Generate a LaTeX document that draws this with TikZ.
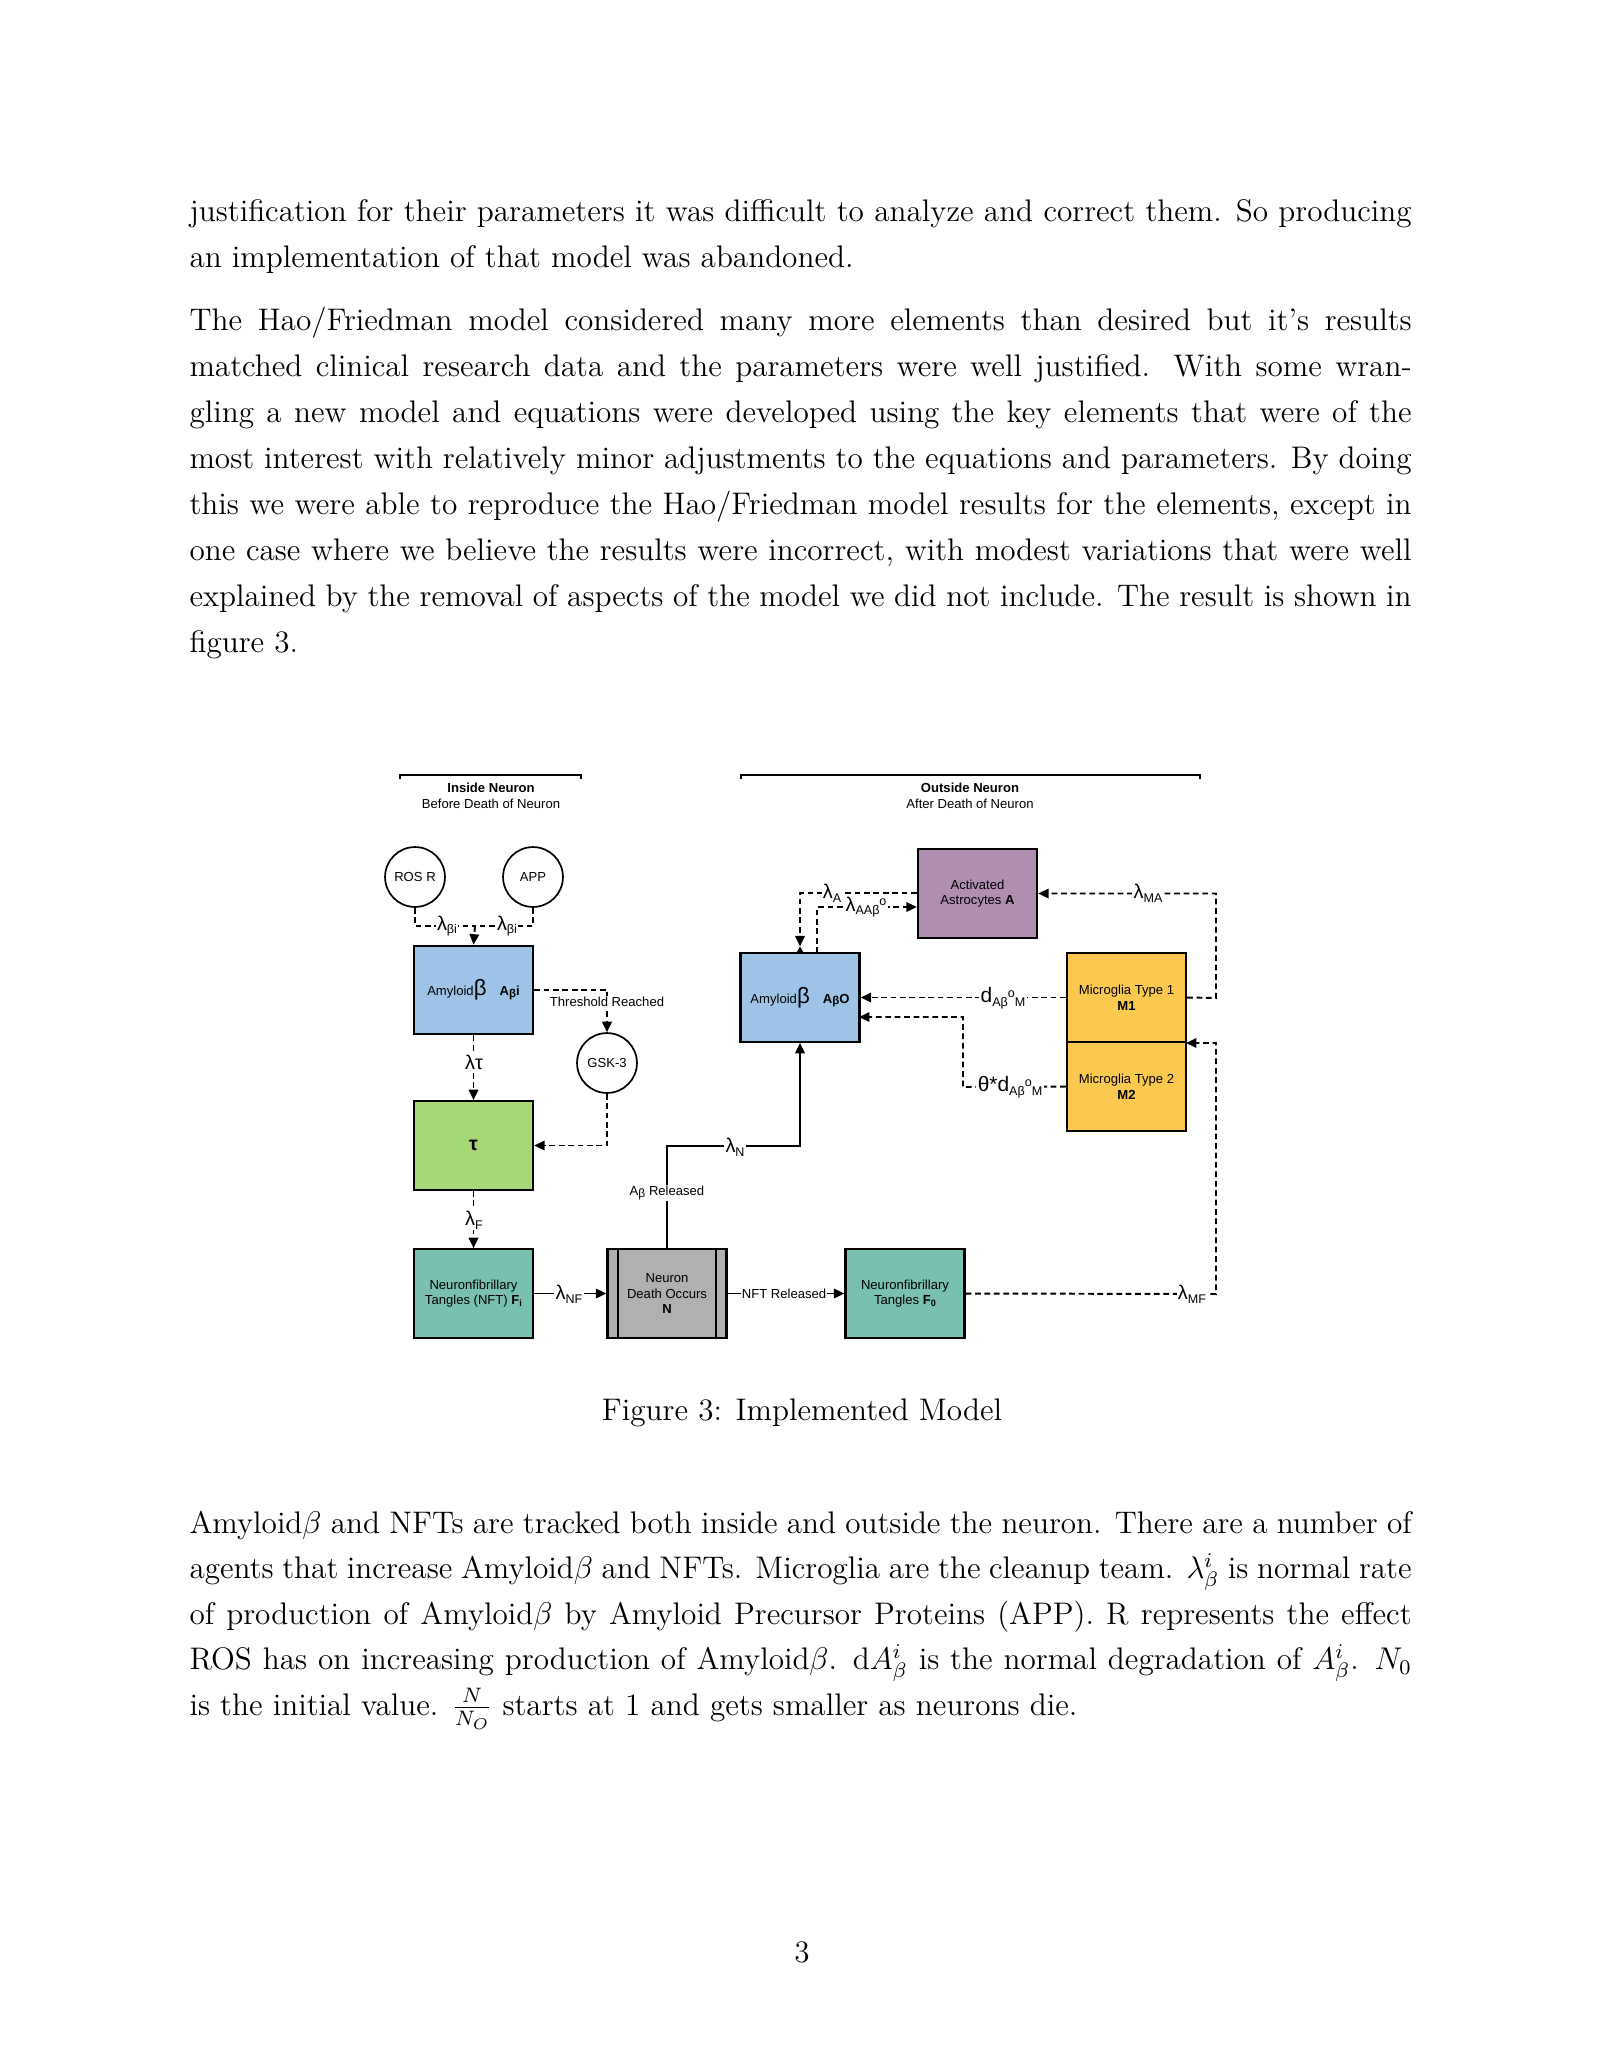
\documentclass[tikz,border=0pt]{standalone}
\usepackage{fontspec}
\newfontfamily\dsf{Liberation Sans}
\usetikzlibrary{arrows.meta}
\newcommand\lam[1]{{\fontsize{7.6}{7.6}\selectfont λ}\raisebox{-1.4pt}{\fontsize{4.8}{5}\selectfont #1}}
\newcommand\sml[1]{{\fontsize{4.8}{5}\selectfont #1}}
\newcommand\jl[1]{\makebox[467.2pt][s]{#1}}
\begin{document}
\begin{tikzpicture}[x=0.382261pt,y=-0.382261pt,
 txt/.style={anchor=base west,inner sep=0pt,font=\fontsize{11.93}{14.4}\selectfont},
 box/.style={draw=black,line width=0.85pt,minimum width=45.5pt,minimum height=33.8pt,inner sep=0pt,align=center,font=\dsf\fontsize{5}{6}\selectfont},
 circ/.style={circle,draw=black,line width=0.65pt,minimum size=22.9pt,inner sep=0pt,font=\dsf\fontsize{5}{6}\selectfont},
 dl/.style={line width=0.75pt,dash pattern=on 2.2pt off 1.4pt},
 sl/.style={line width=0.75pt},
 tip/.style={-{Triangle[length=4pt,width=3.6pt]}},
 lbl/.style={fill=white,inner sep=0.5pt,font=\dsf\fontsize{5}{6}\selectfont},
 head/.style={inner sep=0pt,align=center,font=\dsf\fontsize{5}{6.2}\selectfont},
]
\definecolor{cblue}{RGB}{157,196,231}
\definecolor{cgreen}{RGB}{166,217,118}
\definecolor{cteal}{RGB}{122,192,177}
\definecolor{cgray}{RGB}{176,176,176}
\definecolor{cpurple}{RGB}{176,142,178}
\definecolor{corange}{RGB}{251,200,80}
\fill[white] (0,0) rectangle (1601,2071);
\useasboundingbox (0,0) rectangle (1601,2071);

% ---------- body text ----------
\node[txt] (p1a) at (189,221) {\jl{justification for their parameters it was difficult to analyze and correct them. So producing}};
\node[txt] (p1b) at (189,267) {an implementation of that model was abandoned.};
\node[txt] (p2a) at (189,330) {\jl{The Hao/Friedman model considered many more elements than desired but it's results}};
\node[txt] (p2b) at (189,376) {\jl{matched clinical research data and the parameters were well justified.  With some wran-}};
\node[txt] (p2c) at (189,422) {\jl{gling a new model and equations were developed using the key elements that were of the}};
\node[txt] (p2d) at (189,468) {\jl{most interest with relatively minor adjustments to the equations and parameters. By doing}};
\node[txt] (p2e) at (189,514) {\jl{this we were able to reproduce the Hao/Friedman model results for the elements, except in}};
\node[txt] (p2f) at (189,560) {\jl{one case where we believe the results were incorrect, with modest variations that were well}};
\node[txt] (p2g) at (189,606) {\jl{explained by the removal of aspects of the model we did not include. The result is shown in}};
\node[txt] (p2h) at (189,652) {figure 3.};
\node[txt] (p3a) at (189,1533) {\jl{Amyloid$\beta$ and NFTs are tracked both inside and outside the neuron. There are a number of}};
\node[txt] (p3b) at (189,1578.5) {\jl{agents that increase Amyloid$\beta$ and NFTs. Microglia are the cleanup team. $\lambda_\beta^i$ is normal rate}};
\node[txt] (p3c) at (189,1624) {\jl{of production of Amyloid$\beta$ by Amyloid Precursor Proteins (APP). R represents the effect}};
\node[txt] (p3d) at (189,1669.5) {\jl{ROS has on increasing production of Amyloid$\beta$. d$A_\beta^i$ is the normal degradation of $A_\beta^i$. $N_0$}};
\node[txt] (p3e) at (189,1715) {is the initial value. $\frac{N}{N_O}$ starts at 1 and gets smaller as neurons die.};
\node[txt,anchor=base] (cap) at (802,1420) {Figure 3: Implemented Model};
\node[txt,anchor=base] (pg) at (802,1962) {3};

% ---------- headers ----------
\draw[line width=0.6pt] (400,779) -- (400,775) -- (581,775) -- (581,779);
\draw[line width=0.6pt] (741,779) -- (741,775) -- (1200,775) -- (1200,779);
\node[head] (hin) at (491,796) {\textbf{Inside Neuron}\\Before Death of Neuron};
\node[head] (hout) at (970,796) {\textbf{Outside Neuron}\\After Death of Neuron};

% ---------- nodes ----------
\node[circ] (ros) at (415,877) {ROS R};
\node[circ] (app) at (533,877) {APP};
\node[circ] (gsk) at (607,1063) {GSK-3};
\node[box,fill=cblue] (abi) at (473.5,990) {Amyloid{\fontsize{8.5}{8}\selectfont β}\hspace{5pt}\textbf{A\raisebox{-0.6pt}{\fontsize{4.4}{4}\selectfont β}i}};
\node[box,fill=cgreen] (tau) at (473.5,1145.5) {\fontsize{7.5}{7}\selectfont\textbf{τ}};
\node[box,fill=cteal] (nfti) at (473.5,1293.5) {Neuronfibrillary\\Tangles (NFT) \textbf{F\raisebox{-0.8pt}{\fontsize{3.5}{4}\selectfont i}}};
\node[box,fill=cgray] (nd) at (667,1293.5) {Neuron\\Death Occurs\\\textbf{N}};
\draw[line width=0.85pt] ([xshift=4.4pt]nd.north west) -- ([xshift=4.4pt]nd.south west);
\draw[line width=0.85pt] ([xshift=-4.4pt]nd.north east) -- ([xshift=-4.4pt]nd.south east);
\node[box,fill=cteal] (fo) at (905,1293.5) {Neuronfibrillary\\Tangles \textbf{F\raisebox{-0.8pt}{\fontsize{3.5}{4}\selectfont 0}}};
\node[box,fill=cpurple] (ast) at (977.5,893.5) {Activated\\Astrocytes \textbf{A}};
\node[box,fill=cblue] (abo) at (800,997.5) {Amyloid{\fontsize{8.5}{8}\selectfont β}\hspace{5pt}\textbf{A\raisebox{-0.6pt}{\fontsize{4.4}{4}\selectfont β}O}};
\node[box,fill=corange] (m1) at (1126.5,997.5) {Microglia Type 1\\\textbf{M1}};
\node[box,fill=corange] (m2) at (1126.5,1086.5) {Microglia Type 2\\\textbf{M2}};

% ---------- helper coordinates ----------
\coordinate (jn) at (475,926);
\coordinate (nb) at (800,1146);
\coordinate (aup) at (817,953);
\coordinate (acor) at (817,907);
\coordinate (mar) at (1216,998);
\coordinate (tcor) at (963,1087);
\coordinate (tin) at (859,1017);
\coordinate (mfr) at (1216,1294);
\coordinate (m12) at (1186,1043);

% ---------- connectors ----------
\draw[dl] (ros.south) |- (jn);
\draw[dl] (app.south) |- (jn);
\draw[dl,tip] (jn) -- (abi.north);
\node[lbl] (lb1) at (447,926) {\lam{βi}};
\node[lbl] (lb2) at (507,926) {\lam{βi}};

\draw[dl,tip] (abi.east) -| (gsk.north);
\node[lbl] (thr) at (607,1002) {Threshold Reached};

\draw[dl,tip] (abi.south) -- (tau.north);
\node[lbl] (lt) at (474,1062) {{\fontsize{7.6}{7}\selectfont λτ}};

\draw[dl,tip] (gsk.south) |- (tau.east);

\draw[dl,tip] (tau.south) -- (nfti.north);
\node[lbl] (lf) at (474,1220) {\lam{F}};

\draw[sl,tip] (nfti.east) -- (nd.west);
\node[lbl] (lnf) at (569,1294) {\lam{NF}};

\draw[sl,tip] (nd.east) -- (fo.west);
\node[lbl] (nftr) at (784,1294) {NFT Released};

\draw[sl,tip] (nd.north) |- (nb) -- (abo.south);
\node[lbl] (abr) at (667,1193) {A\raisebox{-0.8pt}{\fontsize{4.6}{5}\selectfont β} Released};
\node[lbl] (ln) at (735,1147) {\lam{N}};

\draw[dl,tip,shorten >=2.2pt] (ast.west |- 0,893) -| (abo.north);
\fill (796,953.5) -- (804,953.5) -- (800,946.5) -- cycle;
\node[lbl] (la) at (832,893) {\lam{A}};

\draw[dl,tip] (aup) |- (acor -| ast.west);
\node[lbl] (laa) at (866,907) {\lam{AAβ}\raisebox{2pt}{\sml{o}}};

\draw[dl,tip] (m1.east) -- (mar) |- (ast.east);
\node[lbl] (lma) at (1148,893) {\lam{MA}};

\draw[dl,tip] (m1.west) -- (abo.east);
\node[lbl] (ldm) at (1003,998) {{\fontsize{8}{8}\selectfont d}\raisebox{-1.4pt}{\sml{Aβ}}\raisebox{2pt}{\sml{o}}\raisebox{-1.4pt}{\sml{M}}};

\draw[dl,tip] (m2.west) -- (tcor) |- (tin);
\node[lbl] (ltd) at (1010,1087) {{\fontsize{8}{8}\selectfont θ*d}\raisebox{-1.4pt}{\sml{Aβ}}\raisebox{2pt}{\sml{o}}\raisebox{-1.4pt}{\sml{M}}};

\draw[dl,tip] (fo.east) -- (mfr) |- (m12);
\node[lbl] (lmf) at (1192,1294) {\lam{MF}};
\end{tikzpicture}
\end{document}
